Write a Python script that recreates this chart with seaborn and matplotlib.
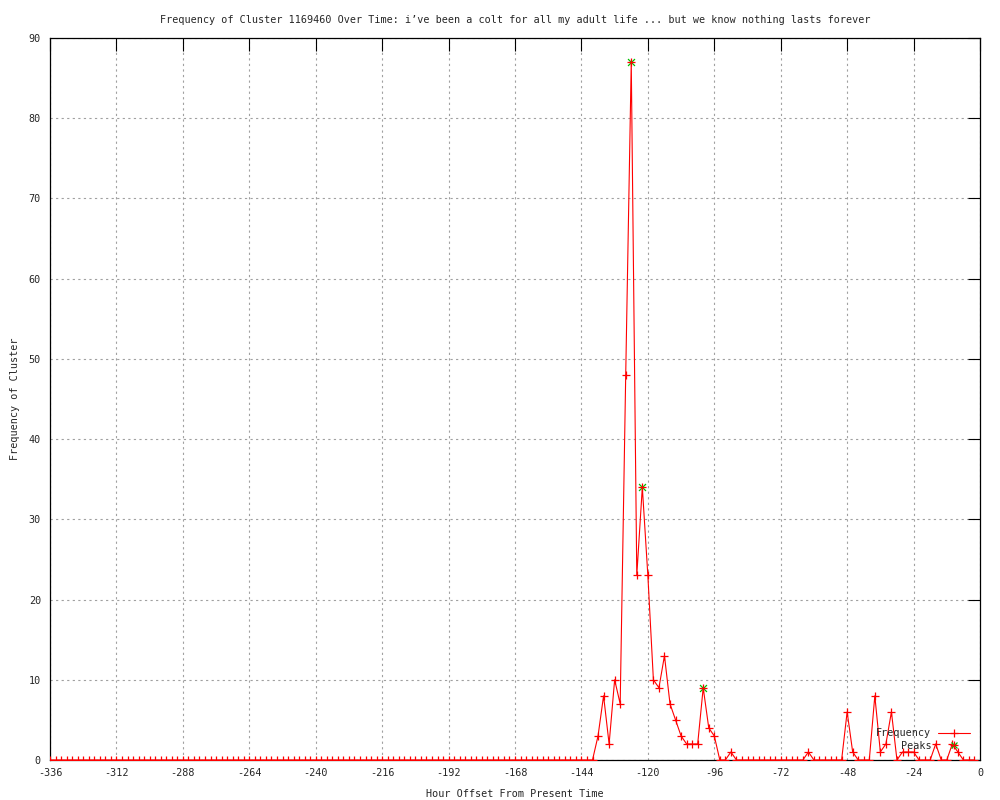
import matplotlib
matplotlib.use("Agg")
import matplotlib.pyplot as plt
from matplotlib.legend_handler import HandlerTuple
from matplotlib.lines import Line2D
import seaborn as sns
import pandas as pd

# ---- data ----
hours = list(range(-336, 0, 2))  # -336 ... -2, every 2 hours
counts = (
    [0] * 99                                   # -336 .. -140
    + [3, 8, 2, 10, 7, 48, 87, 23, 34, 23, 10]  # -138 .. -118
    + [9, 13, 7, 5, 3, 2, 2, 2, 9, 4, 3]        # -116 .. -96
    + [0, 0, 1]                                 # -94 .. -90
    + [0] * 13                                  # -88 .. -64
    + [1]                                       # -62
    + [0] * 6                                   # -60 .. -50
    + [6, 1, 0, 0, 0, 8, 1, 2, 6, 0, 1, 1, 1]   # -48 .. -24
    + [0, 0, 0, 2, 0, 0, 2, 1, 0, 0, 0]         # -22 .. -2
)
peak_hours = [-126, -122, -100]
peak_counts = [87, 34, 9]

title = ("Frequency of Cluster 1169460 Over Time: i\u2019ve been a colt for all "
         "my adult life ... but we know nothing lasts forever")
x_label = "Hour Offset From Present Time"
y_label = "Frequency of Cluster"
x_ticks = list(range(-336, 1, 24))
y_ticks = list(range(0, 91, 10))

df = pd.DataFrame({"hour": hours, "count": counts})
peaks = pd.DataFrame({"hour": peak_hours, "count": peak_counts})

sns.set_style("white")
plt.rcParams["font.family"] = ["DejaVu Sans Mono", "DejaVu Sans"]
plt.rcParams["axes.unicode_minus"] = False
FS = 7.3
MS = 5.5

fig = plt.figure(figsize=(10, 8), dpi=100)
ax = fig.add_axes([0.05, 0.05, 0.93, 0.9025])

# peaks (green x under the red +)
sns.scatterplot(data=peaks, x="hour", y="count", ax=ax, marker="x",
                color="#00c000", s=25, linewidth=0.9, zorder=3, legend=False)
sns.lineplot(data=df, x="hour", y="count", ax=ax, color="red", linewidth=0.8,
             marker="+", markersize=MS, markeredgewidth=0.9,
             markeredgecolor="red", zorder=4, legend=False)

ax.set_xlim(-336, 0)
ax.set_ylim(0, 90)
ax.set_xticks(x_ticks)
ax.set_yticks(y_ticks)
ax.tick_params(axis="both", direction="in", length=9, width=0.8, color="black",
               labelsize=FS, top=True, right=True)
ax.tick_params(axis="y", pad=6.5)
ax.tick_params(axis="x", pad=5.5)
ax.grid(True, color="#a0a0a0", linestyle=(0, (2, 3)), linewidth=0.8)
for s in ax.spines.values():
    s.set_visible(True)
    s.set_color("black")
    s.set_linewidth(0.9)

ax.set_title(title, fontsize=FS, pad=11)
ax.set_xlabel(x_label, fontsize=FS, labelpad=8)
ax.set_ylabel(y_label, fontsize=FS, labelpad=6)

h_freq = Line2D([], [], color="red", linewidth=0.8, marker="+",
                markersize=MS, markeredgewidth=0.9)
h_peak_x = Line2D([], [], linestyle="none", marker="x", color="#00c000",
                  markersize=4.5, markeredgewidth=0.9)
h_peak_p = Line2D([], [], linestyle="none", marker="+", color="red",
                  markersize=MS, markeredgewidth=0.9)
ax.legend([h_freq, (h_peak_x, h_peak_p)], ["Frequency", "Peaks"],
          loc="lower right", bbox_to_anchor=(0.999, 0.0),
          markerfirst=False, frameon=False, fontsize=FS,
          handlelength=3.2, handletextpad=0.6, labelspacing=0.25,
          handler_map={tuple: HandlerTuple(ndivide=1)})

fig.savefig("out.png", dpi=100)
